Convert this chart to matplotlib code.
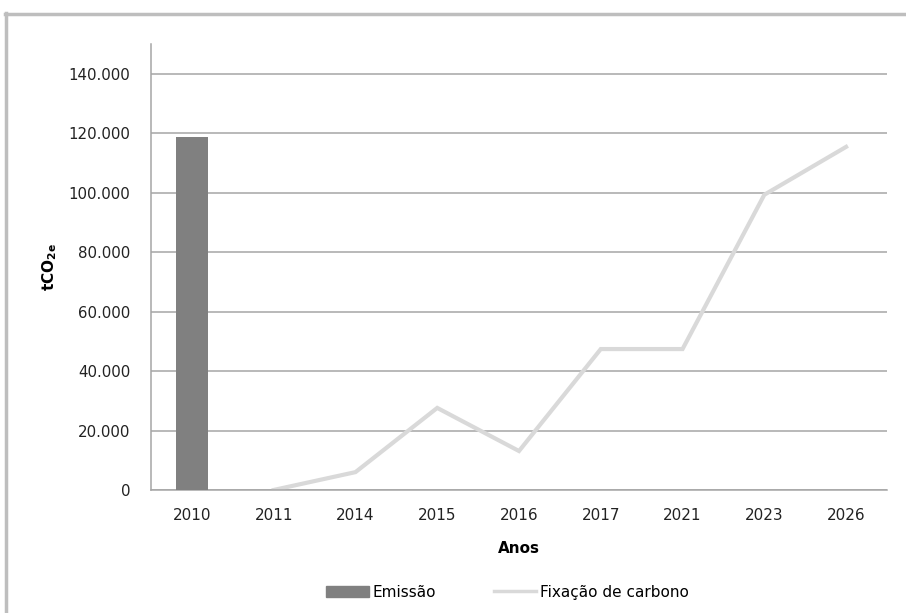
import numpy as np
import matplotlib.pyplot as plt
from matplotlib.lines import Line2D

# Emissões vs fixação de carbono por ano
anos = ['2010', '2011', '2014', '2015', '2016', '2017', '2021', '2023', '2026']
emissao = [118800, 0, 0, 0, 0, 0, 0, 0, 0]
fixacao = [0, 0, 6000, 27600, 13100, 47400, 47400, 99300, 115400]
y_ticks = [0, 20000, 40000, 60000, 80000, 100000, 120000, 140000]

grid_gray = '#A6A6A6'
fig = plt.figure(figsize=(9.06, 6.13), dpi=100)
ax = fig.add_axes([0.1667, 0.2007, 0.8123, 0.7275])

x = np.arange(len(anos))
ax.plot(x[1:], fixacao[1:], color='#D9D9D9', lw=3.0, zorder=2,
        solid_joinstyle='miter', label='Fixação de carbono')
ax.bar(x[:1], emissao[:1], width=0.4, color='#808080', zorder=3, label='Emissão')

ax.set_xlim(-0.5, len(anos) - 0.5)
ax.set_ylim(0, 150000)
ax.set_yticks(y_ticks)
ax.set_yticklabels([f'{v:,}'.replace(',', '.') for v in y_ticks], fontsize=10.8, color='#222222')
ax.set_xticks(x)
ax.set_xticklabels(anos, fontsize=11, family=['Liberation Sans Narrow', 'DejaVu Sans'], color='#222222')
ax.tick_params(length=0, pad=15, axis='y')
ax.tick_params(length=0, pad=13, axis='x')
ax.grid(axis='y', color=grid_gray, lw=1.1, zorder=0)
ax.set_axisbelow(True)
for s in ['top', 'right']:
    ax.spines[s].set_visible(False)
for s in ['left', 'bottom']:
    ax.spines[s].set_color(grid_gray)
    ax.spines[s].set_linewidth(1.1)

ax.set_xlabel('Anos', fontsize=11, fontweight='bold', labelpad=13,
              family=['Liberation Sans Narrow', 'DejaVu Sans'])
ax.set_ylabel(r'tCO$_{\mathbf{2e}}$', fontsize=11, fontweight='bold', labelpad=7)

handles = [plt.Rectangle((0, 0), 1, 1, color='#808080'),
           Line2D([], [], color='#D9D9D9', lw=2.5)]
fig.legend(handles, ['Emissão', 'Fixação de carbono'], loc='center', ncol=2,
           bbox_to_anchor=(0.56, 0.034), frameon=False,
           handlelength=2.8, handletextpad=0.2, columnspacing=3.8,
           prop={'family': ['Liberation Sans Narrow', 'DejaVu Sans'], 'size': 11})

# moldura cinza do gráfico
border = '#BEBEBE'
fig.add_artist(Line2D([5 / 906, 1], [1 - 13.5 / 613] * 2, color=border, lw=2.5,
                      transform=fig.transFigure))
fig.add_artist(Line2D([5.5 / 906] * 2, [0, 1 - 12.5 / 613], color=border, lw=2.5,
                      transform=fig.transFigure))

fig.savefig('out.png', dpi=100)
